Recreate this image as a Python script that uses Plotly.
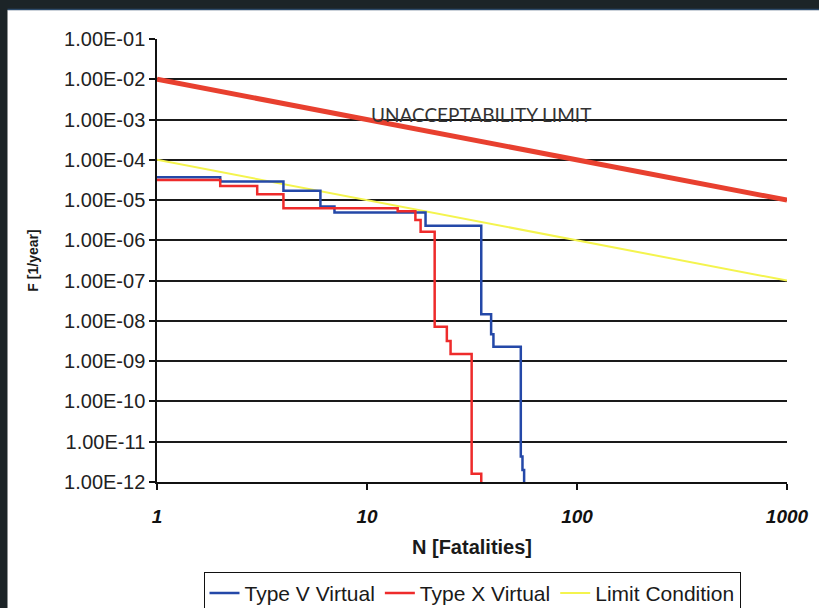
import plotly.graph_objects as go

# ---- data ----
type_v_n = [1, 2, 4, 6, 7, 19, 35, 39, 40, 54, 55, 56]
type_v_f = [3.7e-5, 2.9e-5, 1.7e-5, 6.9e-6, 4.9e-6, 2.3e-6, 1.46e-8, 4.65e-9, 2.29e-9, 4.3e-12, 2.0e-12, 1e-12]

type_x_n = [1, 2, 3, 4, 14, 17, 18, 21, 24, 25, 31.5, 35]
type_x_f = [3.15e-5, 2.24e-5, 1.39e-5, 6.25e-6, 5.3e-6, 3.2e-6, 1.64e-6, 7.2e-9, 3.16e-9, 1.5e-9, 1.6e-12, 1e-12]

limit_n = [1, 1000]
limit_f = [1e-4, 1e-7]

unacc_n = [1, 1000]
unacc_f = [1e-2, 1e-5]

y_tick_vals = [1e-1, 1e-2, 1e-3, 1e-4, 1e-5, 1e-6, 1e-7, 1e-8, 1e-9, 1e-10, 1e-11, 1e-12]
y_tick_text = ["1.00E-01", "1.00E-02", "1.00E-03", "1.00E-04", "1.00E-05", "1.00E-06",
               "1.00E-07", "1.00E-08", "1.00E-09", "1.00E-10", "1.00E-11", "1.00E-12"]
x_tick_vals = [1, 10, 100, 1000]
x_tick_text = ["1", "10", "100", "1000"]

BLUE = "#2448a8"
RED = "#ee2b2b"
YELLOW = "#f4f44e"
UNACC_RED = "#e8402f"
FRAME = "#1c2427"

fig = go.Figure()

fig.add_trace(go.Scatter(x=unacc_n, y=unacc_f, mode="lines", name="Unacceptability Limit",
                         line=dict(color=UNACC_RED, width=5), showlegend=False))
fig.add_trace(go.Scatter(x=limit_n, y=limit_f, mode="lines", name="Limit Condition",
                         line=dict(color=YELLOW, width=2), legendrank=3))
fig.add_trace(go.Scatter(x=type_v_n, y=type_v_f, mode="lines", name="Type V Virtual",
                         line=dict(color=BLUE, width=2.5, shape="hv"), legendrank=1))
fig.add_trace(go.Scatter(x=type_x_n, y=type_x_f, mode="lines", name="Type X Virtual",
                         line=dict(color=RED, width=2.5, shape="hv"), legendrank=2))

fig.add_annotation(x=1.0096, y=-2.88, xref="x", yref="y", xanchor="left", yanchor="middle",
                   text="UNACCEPTABILITY LIMIT", showarrow=False,
                   font=dict(family="Lato", size=19, color="#333333"))

# white slide area inside the dark photo frame (frame visible on top and left)
fig.add_shape(type="rect", xref="paper", yref="paper", x0=-0.2373, x1=1.07, y0=-0.32, y1=1.0655,
              fillcolor="white", line=dict(width=0), layer="below")
fig.add_shape(type="line", xref="paper", yref="paper", x0=-0.2373, x1=1.07, y0=1.0665, y1=1.0665,
              line=dict(color="#2c4a6a", width=1.5), layer="below")

fig.update_layout(
    width=819, height=608,
    margin=dict(l=157, r=32, t=39, b=126, autoexpand=False),
    paper_bgcolor=FRAME, plot_bgcolor="white",
    font=dict(family="Liberation Sans, Arial", color="#222222"),
    showlegend=True,
    legend=dict(orientation="h", x=0.5, xanchor="center", y=-0.203, yanchor="top",
                bordercolor="#111111", borderwidth=1, font=dict(size=21, color="#1a1a1a"),
                itemwidth=30, tracegroupgap=0, bgcolor="white"),
)

fig.update_xaxes(type="log", range=[0, 3], tickvals=x_tick_vals, ticktext=x_tick_text,
                 automargin=False,
                 showgrid=False, showline=True, linecolor="#111111", linewidth=1.5,
                 ticks="outside", ticklen=6, tickcolor="#111111", tickwidth=1.5,
                 tickfont=dict(size=19, weight="bold", style="italic", color="#111111"),
                 ticklabelstandoff=10, zeroline=False,
                 title=dict(text="N [Fatalities]", font=dict(size=20, weight="bold", color="#1a1a1a"),
                            standoff=14))
fig.update_yaxes(type="log", range=[-12, -1], tickvals=y_tick_vals, ticktext=y_tick_text,
                 automargin=False,
                 showgrid=True, gridcolor="#1a1a1a", gridwidth=1.5,
                 showline=True, linecolor="#111111", linewidth=1.5,
                 ticks="outside", ticklen=6, tickcolor="#111111", tickwidth=1.5,
                 tickfont=dict(size=20, color="#222222"), zeroline=False,
                 title=dict(text="F [1/year]", font=dict(size=14, weight="bold", color="#1a1a1a"),
                            standoff=22))

fig.write_html("out.html", config={"displayModeBar": False},
               post_script="document.body.style.margin='0';")
